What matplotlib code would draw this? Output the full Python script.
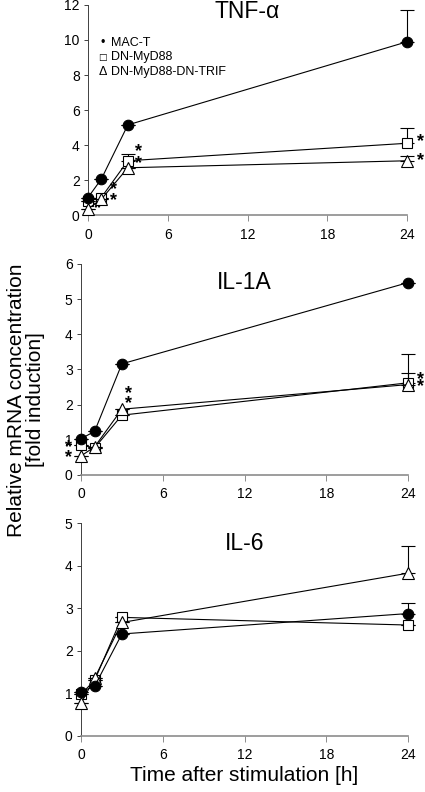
import matplotlib
matplotlib.use("Agg")
import matplotlib.pyplot as plt

plt.rcParams["font.family"] = ["Liberation Sans", "DejaVu Sans"]

# ------------------------------------------------------------------
# Data
# ------------------------------------------------------------------
time_h = [0, 1, 3, 24]
x_ticks = [0, 6, 12, 18, 24]

# TNF-alpha
tnf_mact = [1.0, 2.05, 5.15, 9.9]
tnf_mact_err = [0, 0, 0, 1.8]
tnf_myd = [0.8, 1.0, 3.1, 4.1]
tnf_myd_err = [0, 0, 0.4, 0.85]
tnf_trif = [0.35, 0.9, 2.7, 3.1]
tnf_trif_err = [0, 0, 0, 0.3]
tnf_star_x = [0.75, 1.9, 1.9, 3.8, 3.8, 25.0, 25.0]
tnf_star_y = [0.35, 1.45, 0.85, 3.6, 2.95, 4.2, 3.1]

# IL-1A
il1_mact = [1.03, 1.24, 3.16, 5.47]
il1_mact_err = [0, 0, 0, 0]
il1_myd = [0.85, 0.77, 1.7, 2.62]
il1_myd_err = [0, 0, 0, 0.83]
il1_trif = [0.54, 0.8, 1.87, 2.57]
il1_trif_err = [0, 0, 0, 0.32]
il1_star_x = [-0.95, -0.95, 3.5, 3.5, 24.9, 24.9]
il1_star_y = [0.78, 0.48, 2.3, 2.03, 2.7, 2.5]

# IL-6
il6_mact = [1.03, 1.16, 2.39, 2.87]
il6_mact_err = [0, 0, 0, 0.25]
il6_myd = [0.97, 1.3, 2.78, 2.6]
il6_myd_err = [0, 0, 0, 0]
il6_trif = [0.76, 1.35, 2.66, 3.82]
il6_trif_err = [0, 0, 0, 0.65]
il6_star_x = []
il6_star_y = []

legend_symbols = ["\u2022", "\u25a1", "\u0394"]
legend_labels = ["MAC-T", "DN-MyD88", "DN-MyD88-DN-TRIF"]

panels = [
    ("TNF-\u03b1", tnf_mact, tnf_mact_err, tnf_myd, tnf_myd_err, tnf_trif, tnf_trif_err,
     tnf_star_x, tnf_star_y, 12, 2, 0.967, [0.207, 0.7285, 0.751, 0.2652]),
    ("IL-1A", il1_mact, il1_mact_err, il1_myd, il1_myd_err, il1_trif, il1_trif_err,
     il1_star_x, il1_star_y, 6, 1, 0.91, [0.1906, 0.4003, 0.7694, 0.2664]),
    ("IL-6", il6_mact, il6_mact_err, il6_myd, il6_myd_err, il6_trif, il6_trif_err,
     il6_star_x, il6_star_y, 5, 1, 0.906, [0.1906, 0.0713, 0.7694, 0.2683]),
]

fig = plt.figure(figsize=(4.25, 7.92), dpi=100)

for i, (title, mact, mact_e, myd, myd_e, trif, trif_e, sx, sy, ymax, ystep, ty, pos) in enumerate(panels):
    ax = fig.add_axes(pos)
    common = dict(color="black", lw=0.8, mec="black", mew=0.8, ecolor="black",
                  elinewidth=0.8, capsize=5, capthick=0.8, clip_on=False)
    ax.errorbar(time_h, myd, yerr=[[0] * 4, myd_e], marker="s", ms=7.2, mfc="white",
                zorder=3, **common)
    ax.errorbar(time_h, trif, yerr=[[0] * 4, trif_e], marker="^", ms=8.5, mfc="white",
                zorder=4, **common)
    ax.errorbar(time_h, mact, yerr=[[0] * 4, mact_e], marker="o", ms=7.6, mfc="black",
                zorder=5, **common)
    for x, y in zip(sx, sy):
        ax.text(x, y, "*", fontsize=13, fontweight="bold", ha="center", va="center")

    ax.set_xlim(0, 24)
    ax.set_ylim(0, ymax)
    ax.set_xticks(x_ticks)
    ax.set_yticks(range(0, ymax + 1, ystep))
    for s in ["top", "right"]:
        ax.spines[s].set_visible(False)
    ax.spines["left"].set_color("#404040")
    ax.spines["left"].set_linewidth(0.7)
    ax.spines["bottom"].set_color("#8c8c8c")
    ax.spines["bottom"].set_linewidth(1.2)
    ax.tick_params(axis="y", length=3, width=0.7, color="#404040", pad=3, labelsize=10)
    ax.tick_params(axis="x", length=4, width=0.7, color="#8c8c8c", pad=5, labelsize=10)
    ax.text(0.5, ty, title, transform=ax.transAxes, fontsize=16.5, ha="center", va="center")

    if i == 0:
        rows = [0.819, 0.752, 0.681]
        sym_sizes = [9, 6.5, 9]
        for sym, lab, yy, fs in zip(legend_symbols, legend_labels, rows, sym_sizes):
            ax.text(0.045, yy, sym, transform=ax.transAxes, fontsize=fs, ha="center",
                    va="center", family=["DejaVu Sans"] if sym == "\u25a1" else None)
            ax.text(0.072, yy, lab, transform=ax.transAxes, fontsize=9, va="center")
    if i == 2:
        ax.set_xlabel("Time after stimulation [h]", fontsize=15, labelpad=3)

fig.text(0.061, 0.495, "Relative mRNA concentration\n[fold induction]", rotation=90,
         fontsize=15, ha="center", va="center", linespacing=1.05)

plt.savefig("out.png", dpi=100)
